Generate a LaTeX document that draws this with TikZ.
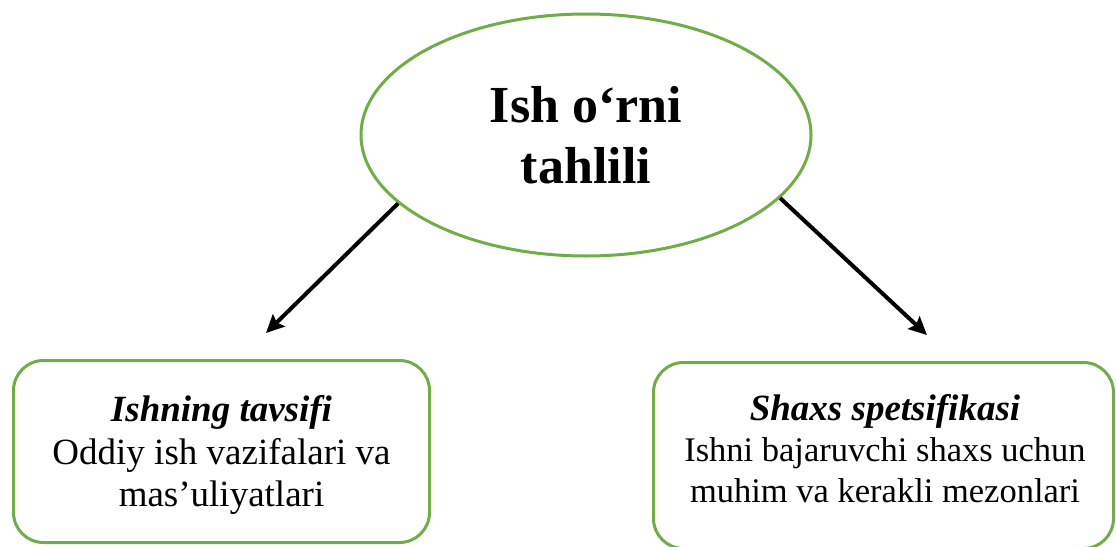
\documentclass[tikz,border=0pt]{standalone}
\usepackage{fontspec}
\setmainfont{Liberation Serif}
\usetikzlibrary{arrows.meta,shapes.geometric}
\definecolor{leafgreen}{RGB}{112,173,71}
\tikzset{
  topic/.style={ellipse, draw=leafgreen, line width=3pt, inner sep=0pt,
    minimum width=450pt, minimum height=242pt, align=center,
    font=\fontsize{52}{61}\selectfont\bfseries},
  card/.style={rectangle, rounded corners=30pt, draw=leafgreen, line width=3pt,
    inner sep=0pt},
  cardtext/.style={inner sep=0pt, align=center},
  head/.style={font=\fontsize{37}{42}\selectfont\bfseries\itshape},
  link/.style={line width=4pt, -{Stealth[length=18pt,width=17pt,inset=3pt]}}
}
\begin{document}
\begin{tikzpicture}[x=1pt,y=-1pt]
  \useasboundingbox (0,0) rectangle (1116,546);
  \node[topic] (main) at (586,135) {Ish o‘rni\\tahlili};
  % left card: job description
  \node[card, minimum width=416pt, minimum height=182pt] (left) at (221.5,451.5) {};
  \node[cardtext, font=\fontsize{37}{42.5}\selectfont] (lefttext) at (221.5,455)
    {\textbf{\textit{Ishning tavsifi}}\\Oddiy ish vazifalari va\\mas’uliyatlari};
  % right card: person specification
  \node[card, minimum width=460pt, minimum height=186pt] (right) at (883.5,455.5) {};
  \node[cardtext, font=\fontsize{34.5}{41}\selectfont] (righttext) at (885,449)
    {{\fontsize{37}{42}\selectfont\textbf{\textit{Shaxs spetsifikasi}}}\\Ishni bajaruvchi shaxs uchun\\muhim va kerakli mezonlari};
  \coordinate (lend) at (266,333);
  \coordinate (rend) at (927,335);
  \draw[link] (main.200.9) -- (lend);
  \draw[link] (main.342.6) -- (rend);
\end{tikzpicture}
\end{document}
